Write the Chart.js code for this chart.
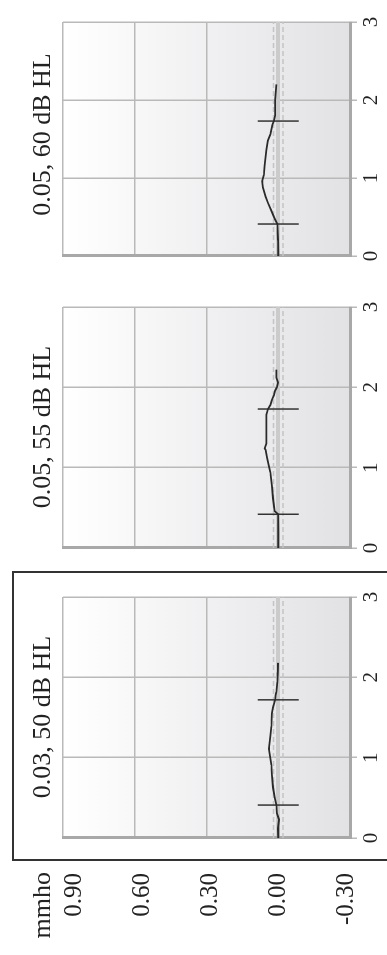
<!DOCTYPE html>
<html>
<head>
<meta charset="utf-8">
<script src="https://cdn.jsdelivr.net/npm/chart.js@4.4.1/dist/chart.umd.min.js"></script>
<style>
  html, body { margin: 0; padding: 0; background: #fff; overflow: hidden; }
  body { width: 387px; height: 955px; position: relative; }
  /* chart is laid out upright, then turned a quarter turn counter-clockwise */
  #page { position: absolute; left: 0; top: 955px; width: 955px; height: 387px;
          transform-origin: 0 0; transform: rotate(-90deg); overflow: hidden; }
  #page canvas { position: absolute; top: 0; }
  #frame { position: absolute; left: 94px; top: 12px; width: 290px; height: 400px;
           border: 2px solid #333; box-sizing: border-box; }
</style>
</head>
<body>
<div id="page">
  <div id="frame"></div>
  <canvas id="axis-labels" width="113" height="387" style="left:0;width:113px;height:387px"></canvas>
  <canvas id="panel-a" width="285" height="387" style="left:95px;width:285px;height:387px"></canvas>
  <canvas id="panel-b" width="285" height="387" style="left:385px;width:285px;height:387px"></canvas>
  <canvas id="panel-c" width="278" height="387" style="left:677px;width:278px;height:387px"></canvas>
</div>
<script>
const panelTitles = ["0.03, 50 dB HL", "0.05, 55 dB HL", "0.05, 60 dB HL"];
const unitLabel = "mmho";
const timeTicks = [0, 1, 2, 3];
const admittanceTicks = [0.9, 0.6, 0.3, 0, -0.3];
const normalBand = [-0.02, 0.02];

// 0.03 mmho, 50 dB HL
const timeA = [0, 0.12, 0.23, 0.31, 0.41, 0.51, 0.63, 0.79, 0.91, 0.99, 1.11, 1.19, 1.27, 1.39, 1.55, 1.62, 1.72, 1.78, 1.82, 1.94, 2.06, 2.18];
const valueA = [0, 0.001, -0.003, 0.006, 0.008, 0.015, 0.022, 0.027, 0.029, 0.033, 0.039, 0.036, 0.033, 0.029, 0.027, 0.022, 0.013, 0.011, 0.008, 0.004, 0.002, 0.001];
const markA = [0.41, 1.72];

// 0.05 mmho, 55 dB HL
const timeB = [0, 0.2, 0.42, 0.46, 0.62, 0.78, 0.94, 1.02, 1.12, 1.22, 1.24, 1.3, 1.46, 1.66, 1.73, 1.78, 1.84, 1.9, 1.96, 2.0, 2.06, 2.12, 2.22];
const valueB = [0, 0, 0.001, 0.015, 0.022, 0.027, 0.033, 0.039, 0.047, 0.053, 0.057, 0.05, 0.05, 0.05, 0.043, 0.033, 0.027, 0.018, 0.013, 0.006, 0.001, 0.008, 0.008];
const markB = [0.42, 1.73];

// 0.05 mmho, 60 dB HL
const timeC = [0, 0.2, 0.41, 0.48, 0.58, 0.68, 0.76, 0.88, 0.96, 1.04, 1.16, 1.36, 1.48, 1.56, 1.68, 1.73, 1.8, 2.0, 2.2];
const valueC = [0, 0.001, 0.004, 0.015, 0.029, 0.043, 0.053, 0.064, 0.067, 0.06, 0.057, 0.05, 0.043, 0.033, 0.025, 0.018, 0.013, 0.013, 0.008];
const markC = [0.41, 1.73];

const Style = {
  font: '"Liberation Serif", serif',
  text: "#222",
  grid: "#b9b9b9",
  zero: "#cbcbcb",
  edge: "#a8a8a8",
  dash: "#c4c4c4",
  trace: "#2a2a2a",
};

Chart.defaults.font.family = Style.font;
Chart.defaults.color = Style.text;

const panelBackground = {
  id: "panelBackground",
  beforeDraw(chart) {
    const { ctx, chartArea: a } = chart;
    const g = ctx.createLinearGradient(0, a.top, 0, a.bottom);
    g.addColorStop(0, "#ffffff");
    g.addColorStop(1, "#e2e2e5");
    ctx.save();
    ctx.fillStyle = g;
    ctx.fillRect(a.left, a.top, a.right - a.left, a.bottom - a.top);
    ctx.restore();
  },
};

const points = (xs, ys) => xs.map((x, i) => ({ x, y: ys[i] }));
const fixedTicks = (list) => (s) => { s.ticks = list.map((v) => ({ value: v })); };

// admittance labels + unit, on their own slightly tighter spacing
new Chart(document.getElementById("axis-labels"), {
  type: "line",
  data: { datasets: [] },
  options: {
    responsive: false,
    animation: false,
    events: [],
    layout: { padding: { top: 28, right: 30, bottom: 37, left: 0 } },
    scales: {
      x: { type: "linear", display: false },
      y: {
        position: "left",
        min: -0.3176,
        max: 0.9485,
        afterBuildTicks: fixedTicks(admittanceTicks),
        afterFit: (s) => { s.width = 82; },
        ticks: { font: { size: 25 }, padding: 0, color: Style.text, callback: (v) => v.toFixed(2) },
        grid: { display: false, drawTicks: false },
        border: { display: false },
      },
    },
    plugins: {
      legend: { display: false },
      tooltip: { enabled: false },
      title: {
        display: true,
        text: unitLabel,
        align: "end",
        color: Style.text,
        font: { size: 26, weight: "normal", lineHeight: 1.2 },
        padding: { top: 0, bottom: 3.8 },
      },
    },
  },
});

function makePanel(id, title, times, values, marks, padRight) {
  new Chart(document.getElementById(id), {
    type: "line",
    data: {
      datasets: [
        {
          data: points(times, values),
          borderColor: Style.trace,
          borderWidth: 1.8,
          pointRadius: 0,
          tension: 0,
        },
        {
          data: marks.map((x) => ({ x, y: 0 })),
          showLine: false,
          pointStyle: "line",
          pointRotation: 90,
          pointRadius: 20.5,
          pointBorderColor: "#333",
          pointBorderWidth: 1.5,
        },
        ...normalBand.map((v) => ({
          data: [{ x: 0, y: v }, { x: 3, y: v }],
          borderColor: Style.dash,
          borderWidth: 1.5,
          borderDash: [5, 3],
          pointRadius: 0,
        })),
      ],
    },
    options: {
      responsive: false,
      animation: false,
      events: [],
      layout: { padding: { top: 28, left: 18, right: padRight, bottom: 0 } },
      scales: {
        x: {
          type: "linear",
          min: 0,
          max: 3,
          afterBuildTicks: fixedTicks(timeTicks),
          afterFit: (s) => { s.height = 37; },
          ticks: { font: { size: 21 }, padding: 2, color: Style.text },
          grid: { color: Style.grid, lineWidth: 1.5, tickLength: 7 },
          border: { color: Style.edge, width: 3 },
        },
        y: {
          min: -0.3,
          max: 0.9,
          afterBuildTicks: fixedTicks(admittanceTicks),
          afterFit: (s) => { s.width = 0; },
          ticks: { display: false },
          grid: {
            drawTicks: false,
            color: (c) => (c.tick && c.tick.value === 0 ? Style.zero : Style.grid),
            lineWidth: (c) => (c.tick && c.tick.value === 0 ? 4 : 1.5),
          },
          border: { color: Style.edge, width: 3 },
        },
      },
      plugins: {
        legend: { display: false },
        tooltip: { enabled: false },
        title: {
          display: true,
          text: title,
          color: Style.text,
          font: { size: 26, weight: "normal", lineHeight: 1.2 },
          padding: { top: 0, bottom: 3.8 },
        },
      },
    },
    plugins: [panelBackground],
  });
}

makePanel("panel-a", panelTitles[0], timeA, valueA, markA, 17);
makePanel("panel-b", panelTitles[1], timeB, valueB, markB, 17);
makePanel("panel-c", panelTitles[2], timeC, valueC, markC, 9);
</script>
</body>
</html>
